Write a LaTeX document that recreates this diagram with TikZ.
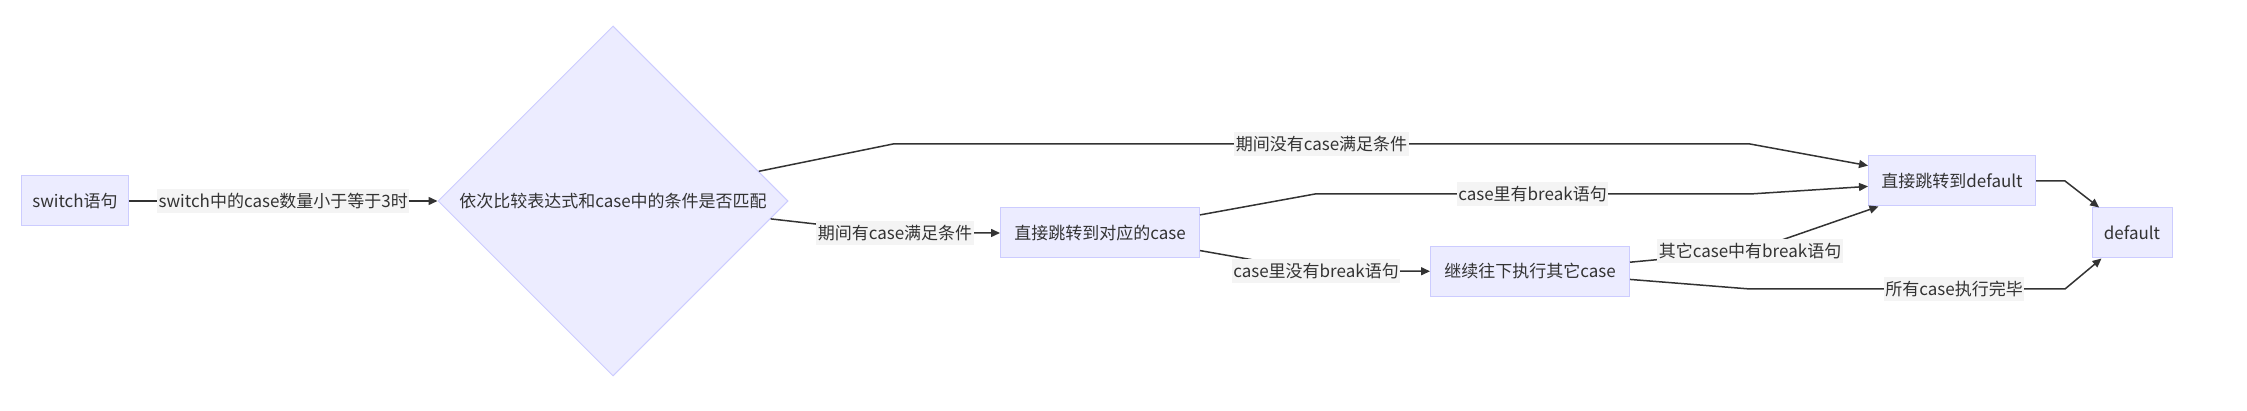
\documentclass[tikz,border=0pt]{standalone}
\usepackage{fontspec}
\setmainfont{Noto Sans CJK SC}
\usepackage{tikz}
\usetikzlibrary{arrows.meta,shapes.geometric}
\definecolor{boxfill}{HTML}{ECECFF}
\definecolor{boxline}{HTML}{CCCCFF}
\definecolor{lblfill}{HTML}{F4F4F4}
\definecolor{ink}{HTML}{333333}

\begin{document}
\begin{tikzpicture}[x=1pt,y=-1pt,
  font=\fontsize{17pt}{20pt}\selectfont, text=ink,
  box/.style={draw=boxline,fill=boxfill,line width=1pt,minimum height=50pt,inner sep=2pt},
  cond/.style={draw=boxline,fill=boxfill,line width=1pt,shape=diamond,aspect=1,minimum size=350pt,inner sep=0pt},
  lbl/.style={fill=lblfill,inner xsep=1.5pt,inner ysep=4pt},
  flow/.style={draw=ink,line width=1.5pt,-{Triangle[length=9pt,width=8pt]}}]
\useasboundingbox (0,0) rectangle (2247,411);
\node[box,minimum width=107pt] (sw) at (75,201) {switch语句};
\node[cond] (dia) at (613,201) {依次比较表达式和case中的条件是否匹配};
\node[box,minimum width=199pt] (jump) at (1100,233) {直接跳转到对应的case};
\node[box,minimum width=199pt] (cont) at (1530,271.5) {继续往下执行其它case};
\node[box,minimum width=167pt] (djump) at (1952,181) {直接跳转到default};
\node[box,minimum width=80pt] (dflt) at (2132,233) {default};

\draw[flow] (sw) -- node[lbl]{switch中的case数量小于等于3时} (dia);
\draw[flow] (dia) -- (893,144) -- node[lbl]{期间没有case满足条件} (1750,144) -- (djump);
\draw[flow] (dia) -- (895,233) node[lbl]{期间有case满足条件} -- (jump);
\draw[flow] (jump) -- (1315,194) -- node[lbl]{case里有break语句} (1750,194) -- (djump);
\draw[flow] (jump) -- (1316,271) node[lbl]{case里没有break语句} -- (cont);
\draw[flow] (cont) -- (1750,251) node[lbl]{其它case中有break语句} -- (djump);
\draw[flow] (cont) -- (1750,289) -- (1954,289) node[lbl]{所有case执行完毕} -- (2065,289) -- (dflt);
\draw[flow] (djump) -- (2065,181) -- (dflt);
\end{tikzpicture}
\end{document}
